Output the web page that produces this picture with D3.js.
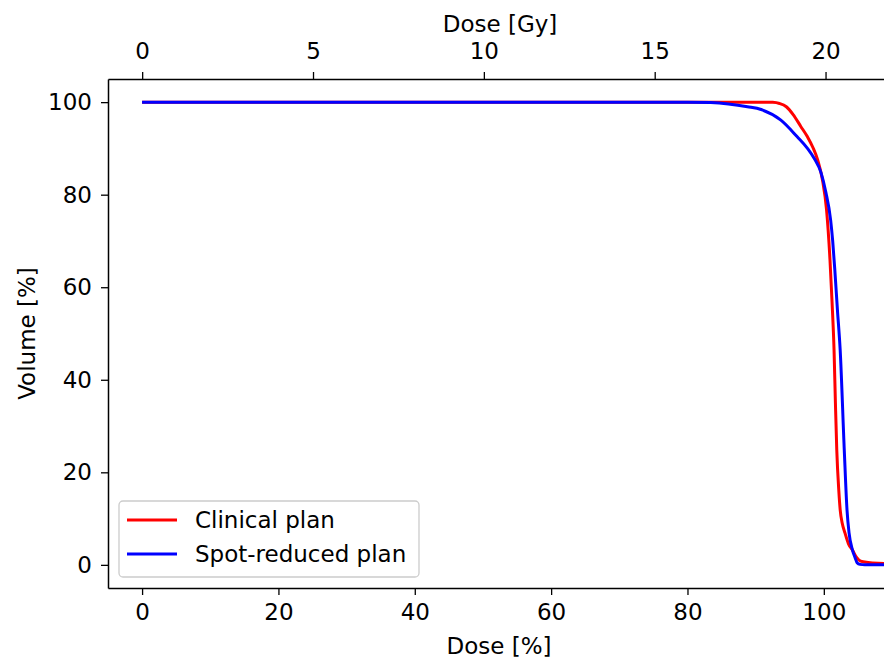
<!DOCTYPE html>
<html>
<head>
<meta charset="utf-8">
<style>
  html, body { margin: 0; padding: 0; background: white; }
  svg text { font-family: "DejaVu Sans", sans-serif; }
</style>
<script src="https://d3js.org/d3.v7.min.js"></script>
</head>
<body>
<div id="dvh_viz"></div>
<script>
// dose in % of prescription, volume in %
var clinicalDose = [0, 80, 88, 91, 92.5, 93.5, 94.5, 95.5, 96.6, 97.6, 98.4, 99.1, 99.8, 100.4, 100.9, 101.2, 101.5, 101.7, 101.9, 102.2, 102.4, 102.7, 103.1, 103.6, 104.2, 104.8, 105.4, 106.5, 108, 110];
var clinicalVol  = [100, 100, 100, 100, 99.95, 99.7, 99.0, 97.3, 94.8, 92.5, 90.2, 87.5, 83.2, 76.7, 66, 57, 46.4, 35, 24.8, 16, 11.9, 9, 6.9, 4.6, 3.2, 1.6, 0.8, 0.5, 0.35, 0.3];

var reducedDose = [0, 80, 83.4, 86, 88.8, 90.8, 93.7, 96.1, 97.6, 98.6, 99.6, 100.3, 101, 101.3, 101.6, 102, 102.4, 103, 103.4, 103.7, 104.2, 104.6, 104.9, 105.3, 106, 110];
var reducedVol  = [100, 100, 99.9, 99.6, 99.0, 98.4, 96.1, 92.5, 90, 87.8, 84.7, 80.5, 74.5, 70, 64, 55, 46.4, 24.8, 11.9, 6.9, 3.2, 1.5, 0.4, 0.1, 0, 0];

var bottomTicks = [0, 20, 40, 60, 80, 100];
var topTicks = [0, 5, 10, 15, 20];
var yTicks = [0, 20, 40, 60, 80, 100];

var seriesNames = ["Clinical plan", "Spot-reduced plan"];
var seriesColors = ["#ff0000", "#0000ff"];

var margin = {top: 79, left: 108},
    width = 784,
    height = 509;

var svg = d3.select("#dvh_viz")
  .append("svg")
    .attr("width", 884)
    .attr("height", 666)
  .append("g")
    .attr("transform", "translate(" + margin.left + "," + margin.top + ")");

var x = d3.scaleLinear().domain([-5, 110]).range([0, width]);
var xGy = d3.scaleLinear().domain([-5 * 0.2, 110 * 0.1995]).range([0, width]);
var y = d3.scaleLinear().domain([-5, 105]).range([height, 0]);

var fs = "23px";

var xAxis = svg.append("g")
  .attr("transform", "translate(0," + height + ")")
  .call(d3.axisBottom(x).tickValues(bottomTicks).tickSize(7).tickSizeOuter(0).tickPadding(9));
var topAxis = svg.append("g")
  .call(d3.axisTop(xGy).tickValues(topTicks).tickSize(7).tickSizeOuter(0).tickPadding(13));
var yAxis = svg.append("g")
  .call(d3.axisLeft(y).tickValues(yTicks).tickSize(7).tickSizeOuter(0).tickPadding(9));

[xAxis, topAxis, yAxis].forEach(function (a) {
  a.selectAll("text").attr("font-size", fs).attr("fill", "black").attr("font-family", "DejaVu Sans");
  a.selectAll("line").attr("stroke", "black").attr("stroke-width", 1.3);
  a.select(".domain").attr("stroke", "black").attr("stroke-width", 1.5);
});

// right spine (falls outside the window)
svg.append("line")
  .attr("x1", width).attr("x2", width).attr("y1", 0).attr("y2", height)
  .attr("stroke", "black").attr("stroke-width", 1.5);

svg.append("defs").append("clipPath").attr("id", "clip")
  .append("rect").attr("width", width).attr("height", height);

var line = d3.line()
  .x(function (d) { return x(d[0]); })
  .y(function (d) { return y(d[1]); })
  .curve(d3.curveMonotoneX);

var series = [
  d3.zip(clinicalDose, clinicalVol),
  d3.zip(reducedDose, reducedVol)
];

svg.append("g").attr("clip-path", "url(#clip)")
  .selectAll("path")
  .data(series)
  .enter()
  .append("path")
    .attr("d", line)
    .attr("fill", "none")
    .attr("stroke", function (d, i) { return seriesColors[i]; })
    .attr("stroke-width", 3);

// axis titles
svg.append("text")
  .attr("x", width / 2 - 1).attr("y", height + 66)
  .attr("text-anchor", "middle").attr("font-size", fs)
  .text("Dose [%]");
svg.append("text")
  .attr("x", width / 2).attr("y", -47)
  .attr("text-anchor", "middle").attr("font-size", fs)
  .text("Dose [Gy]");
svg.append("text")
  .attr("transform", "translate(-73," + (height / 2) + ") rotate(-90)")
  .attr("text-anchor", "middle").attr("font-size", fs)
  .text("Volume [%]");

// legend
var legend = svg.append("g").attr("transform", "translate(11,422)");
legend.append("rect")
  .attr("width", 300).attr("height", 76).attr("rx", 4)
  .attr("fill", "white").attr("fill-opacity", 0.8)
  .attr("stroke", "#cccccc").attr("stroke-width", 1.3);
seriesNames.forEach(function (name, i) {
  legend.append("line")
    .attr("x1", 8).attr("x2", 58)
    .attr("y1", 19 + i * 34).attr("y2", 19 + i * 34)
    .attr("stroke", seriesColors[i]).attr("stroke-width", 3);
  legend.append("text")
    .attr("x", 76).attr("y", 27 + i * 34)
    .attr("font-size", fs)
    .text(name);
});
</script>
</body>
</html>
